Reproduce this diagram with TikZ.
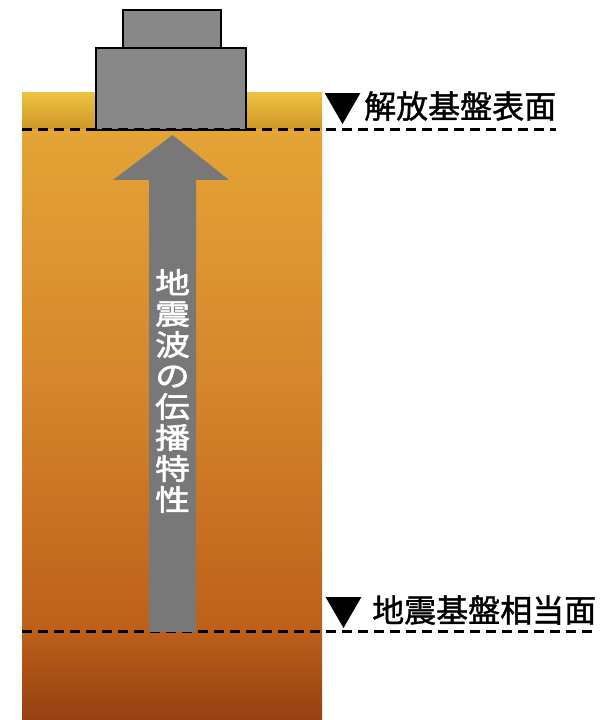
\documentclass[tikz,border=0pt]{standalone}
\usepackage{fontspec}
\usetikzlibrary{shapes.geometric}
\newfontfamily\jpfont[FakeBold=1.2]{Noto Sans CJK JP}
\newfontfamily\wavefont[FakeBold=2,FakeStretch=1.2]{Noto Sans CJK JP}
\definecolor{bandtop}{RGB}{236,194,64}
\definecolor{bandbot}{RGB}{206,150,40}
\definecolor{soiltop}{RGB}{228,164,54}
\definecolor{soilmid}{RGB}{214,134,44}
\definecolor{soillow}{RGB}{188,96,26}
\definecolor{soilbot}{RGB}{150,64,18}
\definecolor{block}{RGB}{136,136,136}
\definecolor{wavecol}{RGB}{120,120,120}
\tikzset{every picture/.style={x=1pt,y=1pt}}
\tikzset{house/.style={draw=black,line width=1.5pt,fill=block}}
\tikzset{level/.style={black,line width=3pt,dash pattern=on 10pt off 6pt}}
\tikzset{marker/.style={regular polygon,regular polygon sides=3,shape border rotate=180,fill=black,minimum size=41,inner sep=0pt}}
\tikzset{annot/.style={font=\jpfont\fontsize{32}{34}\selectfont,anchor=west,inner sep=0pt}}

\begin{document}
\begin{tikzpicture}
\useasboundingbox (0,0) rectangle (604,720);
% ground column
\shade [top color=bandtop,bottom color=bandbot] (22,627) rectangle (322,590);
\shade [top color=soiltop,bottom color=soilmid] (22,590) rectangle (322,340);
\shade [top color=soilmid,bottom color=soillow] (22,340) rectangle (322,90);
\shade [top color=soillow,bottom color=soilbot] (22,90) rectangle (322,0);
% building on the surface
\draw [house] (96,590) rectangle (246,672);
\draw [house] (123,672) rectangle (221,710);
% levels
\coordinate (s1) at (22,590);
\coordinate (e1) at (556,590);
\coordinate (s2) at (22,88);
\coordinate (e2) at (596,88);
\draw [level] (s1) -- (e1);
\draw [level] (s2) -- (e2);
\node [marker] (m1) at (342.5,616.5) {};
\node [annot] (t1) at (364,614) {解放基盤表面};
\node [marker] (m2) at (343.5,112.5) {};
\node [annot] (t2) at (372,110) {地震基盤相当面};
% wave arrow
\fill [wavecol] (149,88) -- (149,540) -- (113,540) -- (172.5,585) -- (229,540) -- (196,540) -- (196,88) -- cycle;
\node [white,align=center,inner sep=0pt,font=\wavefont\fontsize{29}{31}\selectfont] (w) at (172.5,329) {地\\震\\波\\の\\伝\\播\\特\\性};
\end{tikzpicture}
\end{document}
